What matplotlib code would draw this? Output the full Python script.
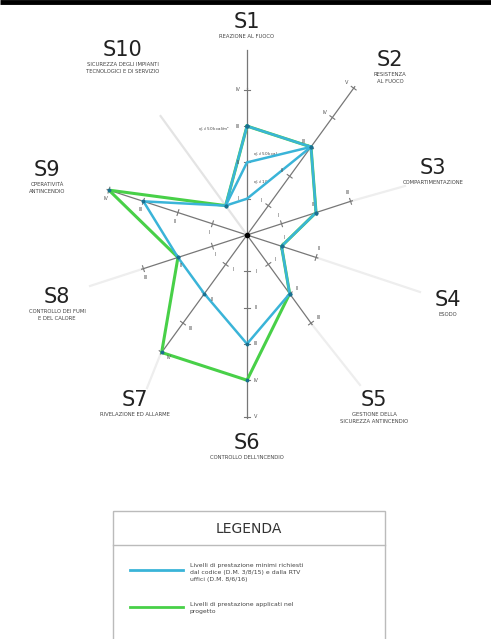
import numpy as np
import matplotlib.pyplot as plt
from matplotlib.patches import Rectangle

# axes of the performance chart (clockwise from the top)
codes = ['S1', 'S2', 'S3', 'S4', 'S5', 'S6', 'S7', 'S8', 'S9', 'S10']
titles = ['REAZIONE AL FUOCO', 'RESISTENZA\nAL FUOCO', 'COMPARTIMENTAZIONE', 'ESODO',
          'GESTIONE DELLA\nSICUREZZA ANTINCENDIO', "CONTROLLO DELL'INCENDIO",
          'RIVELAZIONE ED ALLARME', 'CONTROLLO DEI FUMI\nE DEL CALORE',
          'OPERATIVITÀ\nANTINCENDIO', 'SICUREZZA DEGLI IMPIANTI\nTECNOLOGICI E DI SERVIZIO']
max_level = [4, 5, 3, 2, 3, 5, 4, 3, 4, 4]
roman = ['I', 'II', 'III', 'IV', 'V']

# minimum levels required (blue) - S1 depends on fire load: I, II or III
required = [3, 3, 2, 1, 2, 3, 2, 2, 3, 1]
s1_alternatives = [1, 2]
# levels applied in the project (green)
applied = [3, 3, 2, 1, 2, 4, 4, 2, 4, 1]

BLUE = '#3ab4d8'
GREEN = '#48d048'
GREY = '#777777'

cx, cy, step = 247, 235, 36.3
angles = np.deg2rad(90 - 36 * np.arange(10))


def pos(i, lev):
    return cx + lev * step * np.cos(angles[i]), cy - lev * step * np.sin(angles[i])


fig = plt.figure(figsize=(4.91, 6.39), dpi=100)
ax = fig.add_axes([0, 0, 1, 1])
ax.set_xlim(0, 491)
ax.set_ylim(639, 0)
ax.axis('off')

plt.rcParams['font.family'] = ['Liberation Sans Narrow', 'DejaVu Sans']

# top border
ax.plot([0, 491], [1.5, 1.5], color='black', lw=3.5, solid_capstyle='butt')

# label positions for each axis (title block centre)
label_xy = [(247, 22), (390, 60), (433, 168), (448, 300), (374, 400),
            (247, 443), (135, 400), (57, 297), (47, 170), (123, 50)]
leader_end = [None, None, (405, 186), (420, 292), (360, 385),
              None, (147, 388), (90, 286), None, None]

for i in range(10):
    a = angles[i]
    ex, ey = pos(i, max_level[i] + 0.05)
    col = '#e4e4e4' if codes[i] == 'S10' else GREY
    ax.plot([cx, ex], [cy, ey], color=col, lw=0.9 if codes[i] != 'S10' else 1.6, zorder=2)
    if codes[i] == 'S1':
        ax.plot([cx, cx], [ey, 50], color=GREY, lw=0.9, zorder=2)
    if leader_end[i] is not None:
        ax.plot([ex, leader_end[i][0]], [ey, leader_end[i][1]], color='#eeeeee', lw=1.6, zorder=1)
    # ticks and numerals
    px, py = -np.sin(a), -np.cos(a)
    for lev in range(1, max_level[i] + 1):
        tx, ty = pos(i, lev)
        if codes[i] != 'S10':
            ax.plot([tx - 3 * px, tx + 3 * px], [ty - 3 * py, ty + 3 * py], color=col, lw=0.8, zorder=2)
            ax.text(tx + 9 * px, ty + 9 * py, roman[lev - 1], fontsize=3.6, color='#555555',
                    ha='center', va='center', zorder=6)
    lx, ly = label_xy[i]
    ax.text(lx, ly, codes[i], fontsize=15, ha='center', va='center', color='#222222')
    ax.text(lx, ly + 12, titles[i], fontsize=3.8, ha='center', va='top', color='#444444',
            linespacing=1.6)

ax.plot(cx, cy, 'o', color='black', ms=3, zorder=7)

# green polygon (applied)
g = [pos(i, applied[i]) for i in range(10)] + [pos(0, applied[0])]
ax.plot([p[0] for p in g], [p[1] for p in g], color=GREEN, lw=2.2, zorder=3,
        solid_joinstyle='miter')

# blue polygon (required)
b = [pos(i, required[i]) for i in range(10)] + [pos(0, required[0])]
ax.plot([p[0] for p in b], [p[1] for p in b], color=BLUE, lw=1.8, zorder=4,
        solid_joinstyle='miter')
for lev in s1_alternatives:
    p0 = pos(0, lev)
    p9 = pos(9, required[9])
    p1 = pos(1, required[1])
    ax.plot([p9[0], p0[0], p1[0]], [p9[1], p0[1], p1[1]], color=BLUE, lw=1.8, zorder=4)
for pts in (g, b):
    ax.plot([p[0] for p in pts], [p[1] for p in pts], 'o', color='#1a7090', ms=1.8, zorder=5)

# fire load notes on S1
ax.text(cx - 17, pos(0, 3)[1] + 3, 'q$_{f,d}$ 50 kcal/m²', fontsize=3, ha='right', va='center', color='#444444')
ax.text(cx + 6, pos(0, 2)[1] - 8, 'q$_{f,d}$ 50 kcal', fontsize=3, ha='left', va='center', color='#444444')
ax.text(cx + 6, pos(0, 1)[1] - 17, 'q$_{f,d}$ 10', fontsize=3, ha='left', va='center', color='#444444')

# legend box
ax.add_patch(Rectangle((113, 511), 272, 135, fill=False, ec='#bbbbbb', lw=1))
ax.plot([113, 385], [545, 545], color='#bbbbbb', lw=1)
ax.text(249, 529, 'LEGENDA', fontsize=10, ha='center', va='center', color='#333333')
ax.plot([130, 183], [570, 570], color=BLUE, lw=2)
ax.text(190, 563, 'Livelli di prestazione minimi richiesti\ndal codice (D.M. 3/8/15) e dalla RTV\nuffici (D.M. 8/6/16)',
        fontsize=4.4, ha='left', va='top', color='#444444', linespacing=1.5)
ax.plot([130, 183], [607, 607], color=GREEN, lw=2)
ax.text(190, 602, 'Livelli di prestazione applicati nel\nprogetto',
        fontsize=4.4, ha='left', va='top', color='#444444', linespacing=1.5)

fig.savefig('out.png', dpi=100)
